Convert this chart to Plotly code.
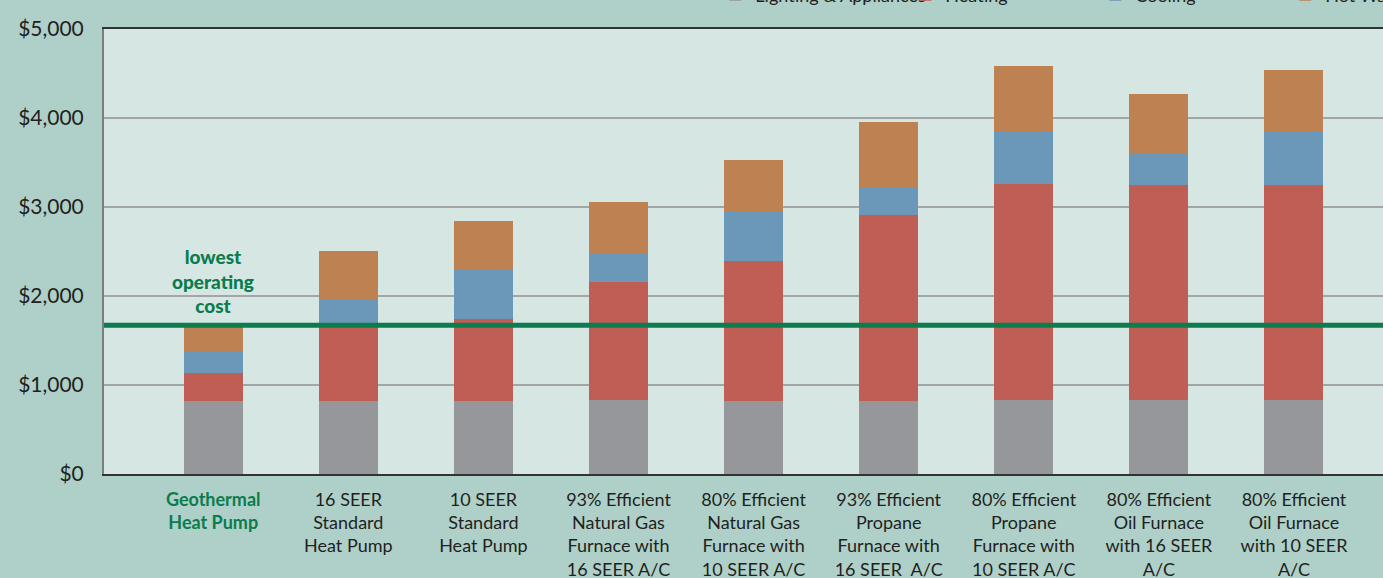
import plotly.graph_objects as go

# ---------------- data ----------------
categories = [
    "Geothermal<br>Heat Pump",
    "16 SEER<br>Standard<br>Heat Pump",
    "10 SEER<br>Standard<br>Heat Pump",
    "93% Efficient<br>Natural Gas<br>Furnace with<br>16 SEER A/C",
    "80% Efficient<br>Natural Gas<br>Furnace with<br>10 SEER A/C",
    "93% Efficient<br>Propane<br>Furnace with<br>16 SEER  A/C",
    "80% Efficient<br>Propane<br>Furnace with<br>10 SEER A/C",
    "80% Efficient<br>Oil Furnace<br>with 16 SEER<br>A/C",
    "80% Efficient<br>Oil Furnace<br>with 10 SEER<br>A/C",
]
lighting_appliances = [816, 816, 819, 827, 819, 820, 831, 831, 831]
heating = [315, 849, 920, 1332, 1573, 2090, 2428, 2416, 2416]
cooling = [240, 296, 563, 315, 555, 315, 596, 361, 600]
hot_water = [294, 544, 541, 582, 582, 732, 732, 664, 695]
lowest_cost = 1670
y_ticks = [0, 1000, 2000, 3000, 4000, 5000]
y_tick_labels = ["$0", "$1,000", "$2,000", "$3,000", "$4,000", "$5,000"]
dark_grid = [3000, 4000]

series = [
    ("Lighting & Appliances", lighting_appliances, "#96979b"),
    ("Heating", heating, "#bf5e54"),
    ("Cooling", cooling, "#6b97b9"),
    ("Hot Water", hot_water, "#bd8152"),
]

GREEN = "#0a7c4e"
FONT = "Lato"

fig = go.Figure()
for name, vals, col in series:
    fig.add_trace(go.Bar(
        x=categories, y=vals, name=name,
        marker=dict(color=col, line=dict(width=0)),
        width=0.437,
    ))

ticktext = list(categories)
ticktext[0] = "<br>".join(
    "<b><span style='color:%s'>%s</span></b>" % (GREEN, part)
    for part in categories[0].split("<br>")
)

fig.update_layout(
    width=1383, height=578,
    barmode="stack",
    paper_bgcolor="#aed0c8",
    plot_bgcolor="#d6e6e3",
    margin=dict(l=104, r=0, t=29, b=104, autoexpand=False),
    font=dict(family=FONT, color="#231f20"),
    showlegend=True,
    legend=dict(
        orientation="h", x=0.478, xanchor="left", y=1.035, yanchor="bottom",
        font=dict(size=18, family=FONT), entrywidth=145, entrywidthmode="pixels",
        bgcolor="rgba(0,0,0,0)", traceorder="normal",
    ),
    xaxis=dict(
        range=[-0.8085, 8.659],
        tickmode="array", tickvals=categories, ticktext=ticktext,
        tickfont=dict(size=18, family=FONT, color="#231f20"),
        ticks="outside", ticklen=8, tickcolor="rgba(0,0,0,0)",
        showline=True, linecolor="#333333", linewidth=2, mirror=True,
        showgrid=False, zeroline=False,
    ),
    yaxis=dict(
        range=[0, 5000],
        tickmode="array", tickvals=y_ticks, ticktext=y_tick_labels,
        tickfont=dict(size=21, family=FONT, color="#231f20"),
        ticks="outside", ticklen=14, tickcolor="rgba(0,0,0,0)",
        showgrid=True, gridcolor="#a3a6a6", gridwidth=1.5,
        showline=True, linecolor="#7a7d7d", linewidth=2,
        zeroline=False,
    ),
)

for g in dark_grid:
    fig.add_shape(type="line", xref="paper", x0=0, x1=1, yref="y", y0=g, y1=g,
                  line=dict(color="#3a3d3d", width=1.5), layer="between")

fig.add_shape(type="line", xref="paper", x0=0, x1=1, yref="y",
              y0=lowest_cost, y1=lowest_cost,
              line=dict(color=GREEN, width=5), layer="above")

fig.add_annotation(
    x=categories[0], y=lowest_cost, yref="y", yanchor="bottom",
    yshift=6, text="lowest<br>operating<br>cost", showarrow=False,
    font=dict(size=19, color=GREEN, family=FONT, weight=900),
)

fig.write_html("out.html", config={"displayModeBar": False},
               post_script="document.body.style.margin='0';")
